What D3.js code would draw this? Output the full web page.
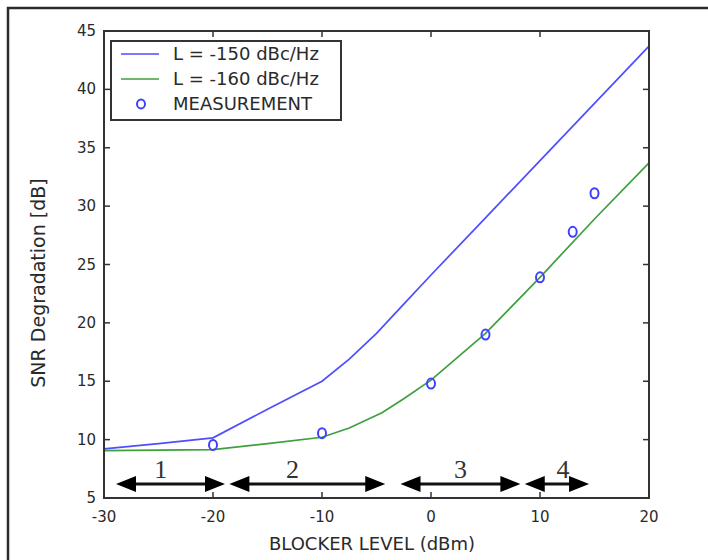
<!DOCTYPE html>
<html>
<head>
<meta charset="utf-8">
<script src="https://cdn.jsdelivr.net/npm/d3@7"></script>
<style>
  body { margin: 0; background: #fff; }
  svg text { font-family: "DejaVu Sans", Verdana, sans-serif; fill: #2a2a2a; }
</style>
</head>
<body>
<div id="chart"></div>
<script>
// blocker level (dBm) sample points of the two simulated curves
const xBlue  = [-30, -25, -20, -15, -10, -7.5, -5, -2.5, 0, 5, 10, 15, 20];
const yBlue  = [9.2, 9.65, 10.15, 12.6, 15.0, 16.9, 19.1, 21.6, 24.1, 29.0, 33.9, 38.8, 43.7];
const xGreen = [-30, -25, -20, -15, -10, -7.5, -4.5, -2.5, 0, 5, 10, 15, 20];
const yGreen = [9.05, 9.1, 9.15, 9.65, 10.2, 11.0, 12.3, 13.5, 15.1, 19.1, 23.9, 28.9, 33.7];

// measured points
const xMeas = [-20, -10, 0, 5, 10, 13, 15];
const yMeas = [9.55, 10.55, 14.8, 19.0, 23.9, 27.8, 31.1];

// operating regions shown as double arrows
const regionNames = ["1", "2", "3", "4"];
const regionStart = [-28.9, -18.5, -2.8, 8.6];
const regionEnd   = [-18.9, -4.2, 8.2, 14.5];
const regionLabelX = [-24.8, -12.7, 2.7, 12.1];
const regionArrowY = 6.2;
const regionLabelY = 7.6;

const xTicks = [-30, -20, -10, 0, 10, 20];
const yTicks = [5, 10, 15, 20, 25, 30, 35, 40, 45];

const legendNames = ["L = -150 dBc/Hz", "L = -160 dBc/Hz", "MEASUREMENT"];

class SnrChart {

    constructor(parentElement) {
        this.parentElement = parentElement;
        this.initVis();
    }

    initVis() {
        let vis = this;
        vis.width = 708;
        vis.height = 560;
        vis.margin = {left: 104, right: 59, top: 31, bottom: 62};

        vis.svg = d3.select(vis.parentElement)
            .append("svg")
            .attr("width", vis.width)
            .attr("height", vis.height);

        // outer frame of the figure (runs off the right and bottom)
        vis.svg.append("rect")
            .attr("x", 8).attr("y", 8)
            .attr("width", 760).attr("height", 600)
            .attr("fill", "none")
            .attr("stroke", "#2b2b2b")
            .attr("stroke-width", 2.5);

        vis.x = d3.scaleLinear().domain([-30, 20])
            .range([vis.margin.left, vis.width - vis.margin.right]);
        vis.y = d3.scaleLinear().domain([5, 45])
            .range([vis.height - vis.margin.bottom, vis.margin.top]);

        vis.updateVis();
    }

    updateVis() {
        let vis = this;
        let x = vis.x, y = vis.y;
        let x0 = x.range()[0], x1 = x.range()[1];
        let y0 = y.range()[0], y1 = y.range()[1];

        // inward ticks on all four sides
        let tick = 6;
        let axisCol = "#333";
        let g = vis.svg.append("g");
        xTicks.forEach(t => {
            g.append("line").attr("x1", x(t)).attr("x2", x(t)).attr("y1", y0).attr("y2", y0 - tick)
                .attr("stroke", axisCol).attr("stroke-width", 1.5);
            g.append("line").attr("x1", x(t)).attr("x2", x(t)).attr("y1", y1).attr("y2", y1 + tick)
                .attr("stroke", axisCol).attr("stroke-width", 1.5);
            g.append("text").attr("x", x(t)).attr("y", y0 + 24)
                .attr("text-anchor", "middle").style("font-size", "15px")
                .text(t);
        });
        yTicks.forEach(t => {
            g.append("line").attr("x1", x0).attr("x2", x0 + tick).attr("y1", y(t)).attr("y2", y(t))
                .attr("stroke", axisCol).attr("stroke-width", 1.5);
            g.append("line").attr("x1", x1).attr("x2", x1 - tick).attr("y1", y(t)).attr("y2", y(t))
                .attr("stroke", axisCol).attr("stroke-width", 1.5);
            g.append("text").attr("x", x0 - 8).attr("y", y(t) + 5)
                .attr("text-anchor", "end").style("font-size", "15px")
                .text(t);
        });

        let line = d3.line().x(d => x(d[0])).y(d => y(d[1]));

        vis.svg.append("path")
            .datum(d3.zip(xGreen, yGreen))
            .attr("d", line)
            .attr("fill", "none")
            .attr("stroke", "#3f9f3f")
            .attr("stroke-width", 1.7);

        vis.svg.append("path")
            .datum(d3.zip(xBlue, yBlue))
            .attr("d", line)
            .attr("fill", "none")
            .attr("stroke", "#4e4eff")
            .attr("stroke-width", 1.7);

        vis.svg.selectAll(".meas")
            .data(d3.zip(xMeas, yMeas))
            .enter()
            .append("ellipse")
            .attr("class", "meas")
            .attr("cx", d => x(d[0]))
            .attr("cy", d => y(d[1]))
            .attr("rx", 4)
            .attr("ry", 5)
            .attr("fill", "none")
            .attr("stroke", "#4040ff")
            .attr("stroke-width", 2);

        // region arrows
        let headLen = 20, headHalf = 8;
        regionNames.forEach((name, i) => {
            let a = x(regionStart[i]), b = x(regionEnd[i]), ay = y(regionArrowY);
            vis.svg.append("line")
                .attr("x1", a + headLen - 2).attr("x2", b - headLen + 2)
                .attr("y1", ay).attr("y2", ay)
                .attr("stroke", "#111").attr("stroke-width", 3);
            vis.svg.append("path")
                .attr("d", `M${a},${ay} L${a + headLen},${ay - headHalf} L${a + headLen},${ay + headHalf} Z`)
                .attr("fill", "#000");
            vis.svg.append("path")
                .attr("d", `M${b},${ay} L${b - headLen},${ay - headHalf} L${b - headLen},${ay + headHalf} Z`)
                .attr("fill", "#000");
            vis.svg.append("text")
                .attr("x", x(regionLabelX[i]))
                .attr("y", y(regionLabelY) + 10)
                .attr("text-anchor", "middle")
                .style("font-family", "'Liberation Serif', 'DejaVu Serif', serif")
                .style("font-size", "26px")
                .style("fill", "#333")
                .text(name);
        });

        // plot box
        vis.svg.append("rect")
            .attr("x", x0).attr("y", y1)
            .attr("width", x1 - x0).attr("height", y0 - y1)
            .attr("fill", "none")
            .attr("stroke", axisCol)
            .attr("stroke-width", 2);

        // axis titles
        vis.svg.append("text")
            .attr("x", 372)
            .attr("y", 550)
            .attr("text-anchor", "middle")
            .style("font-size", "18px")
            .text("BLOCKER LEVEL (dBm)");

        vis.svg.append("text")
            .attr("transform", `translate(45, ${283}) rotate(-90)`)
            .attr("text-anchor", "middle")
            .style("font-size", "19px")
            .text("SNR Degradation [dB]");

        // legend
        let lg = vis.svg.append("g");
        lg.append("rect")
            .attr("x", 111).attr("y", 41)
            .attr("width", 230).attr("height", 79)
            .attr("fill", "#fff")
            .attr("stroke", axisCol)
            .attr("stroke-width", 2);
        let rowY = [54, 79, 104];
        let colors = ["#4e4eff", "#3f9f3f"];
        legendNames.forEach((name, i) => {
            if (i < 2) {
                lg.append("line")
                    .attr("x1", 121).attr("x2", 159)
                    .attr("y1", rowY[i]).attr("y2", rowY[i])
                    .attr("stroke", colors[i]).attr("stroke-width", 1.7);
            } else {
                lg.append("ellipse")
                    .attr("cx", 141).attr("cy", rowY[i])
                    .attr("rx", 4).attr("ry", 4.5)
                    .attr("fill", "none")
                    .attr("stroke", "#4040ff").attr("stroke-width", 2);
            }
            lg.append("text")
                .attr("x", 173).attr("y", rowY[i] + 6)
                .style("font-size", "18px")
                .text(name);
        });
    }
}

new SnrChart("#chart");
</script>
</body>
</html>
